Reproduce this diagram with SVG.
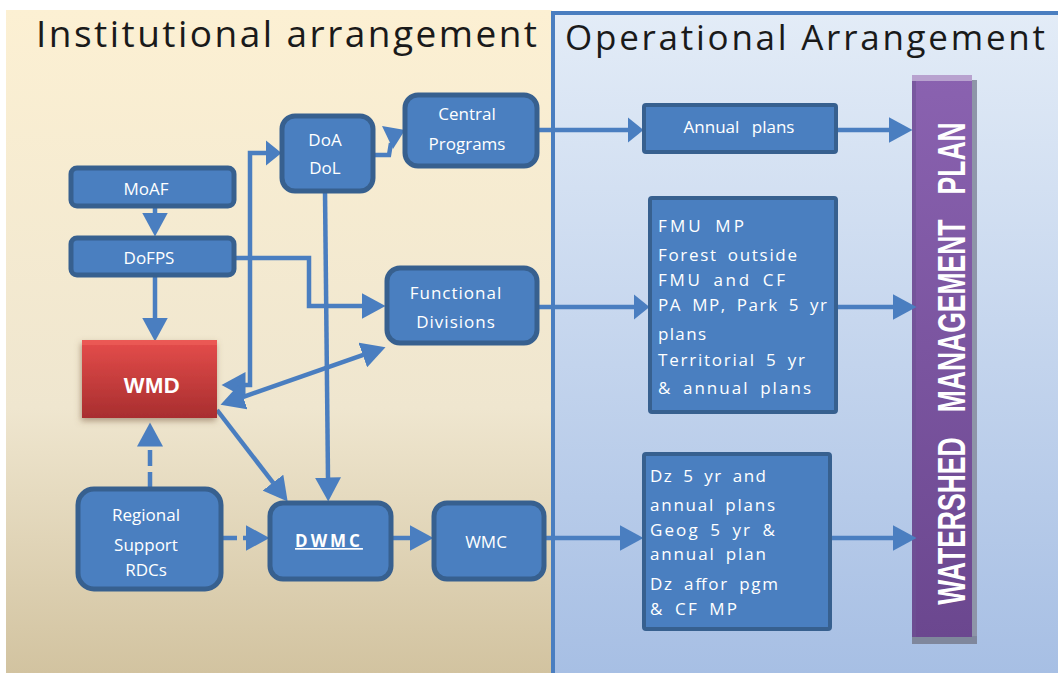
<svg xmlns="http://www.w3.org/2000/svg" width="1058" height="673" viewBox="0 0 1058 673">
<defs>
<linearGradient id="gBeige" x1="0" y1="0" x2="0" y2="1">
<stop offset="0" stop-color="#FCF0D3"/>
<stop offset="0.6" stop-color="#EFE6CF"/>
<stop offset="1" stop-color="#D2C3A0"/>
</linearGradient>
<linearGradient id="gBlue" x1="0" y1="0" x2="0" y2="1">
<stop offset="0" stop-color="#E3ECF7"/>
<stop offset="1" stop-color="#A7BFE4"/>
</linearGradient>
<linearGradient id="gRed" x1="0" y1="0" x2="0" y2="1">
<stop offset="0" stop-color="#E54D4B"/>
<stop offset="1" stop-color="#A82E2F"/>
</linearGradient>
<linearGradient id="gPurple" x1="0" y1="0" x2="0" y2="1">
<stop offset="0" stop-color="#8A62B0"/>
<stop offset="1" stop-color="#6B478F"/>
</linearGradient>
<filter id="shadow" x="-20%" y="-20%" width="140%" height="140%">
<feGaussianBlur in="SourceAlpha" stdDeviation="3"/>
<feOffset dx="-1" dy="3" result="b"/>
<feFlood flood-color="#7A5A40" flood-opacity="0.55"/>
<feComposite in2="b" operator="in"/>
<feMerge><feMergeNode/><feMergeNode in="SourceGraphic"/></feMerge>
</filter>
<marker id="arrow" markerUnits="userSpaceOnUse" markerWidth="25" markerHeight="26" refX="0.5" refY="13" orient="auto-start-reverse">
<path d="M0,0 L24,13 L0,26 z" fill="#4A7EC0"/>
</marker>
<marker id="arrowS" markerUnits="userSpaceOnUse" markerWidth="17" markerHeight="26" refX="0.5" refY="13" orient="auto-start-reverse">
<path d="M0,0 L16,13 L0,26 z" fill="#4A7EC0"/>
</marker>
</defs>
<style>
.rnd{fill:#4A7FC0;stroke:#37608F;stroke-width:5}
.sq{fill:#4A7FC0;stroke:#37608F;stroke-width:4}
.lbl{font-family:"Open Sans","Liberation Sans",sans-serif;font-size:17px;fill:#FFFFFF;text-anchor:middle}
.lst{font-family:"Open Sans","Liberation Sans",sans-serif;font-size:17px;fill:#FFFFFF;word-spacing:4px}
.ttl{font-family:"Open Sans","Liberation Sans",sans-serif;fill:#1A1A1A}
.con{fill:none;stroke:#4A7EC0;stroke-width:4.5}
.dash{stroke-dasharray:16 6}
</style>

<!-- backgrounds -->
<rect x="6" y="10" width="546" height="663" fill="url(#gBeige)"/>
<rect x="552" y="12" width="506" height="661" fill="url(#gBlue)"/>
<path d="M553,673 V13 H1058" fill="none" stroke="#4A7EC0" stroke-width="4"/>
<text class="ttl" x="36" y="47" font-size="37" textLength="501" lengthAdjust="spacing">Institutional arrangement</text>
<text class="ttl" x="565" y="50" font-size="35" textLength="480" lengthAdjust="spacing">Operational Arrangement</text>

<!-- watershed management plan bar -->
<g id="wmp">
<rect x="972" y="80" width="5" height="564" fill="#8E95A8"/>
<rect x="912" y="636" width="65" height="8" fill="#7F879C"/>
<rect x="912" y="75" width="60" height="562" fill="url(#gPurple)"/>
<rect x="912" y="75" width="60" height="6" fill="#B8A2CF"/>
<rect x="912" y="81" width="4" height="556" fill="#6E5294" opacity="0.6"/>
<text transform="translate(965,363.5) rotate(-90) scale(0.68,1)" x="0" y="0" text-anchor="middle" font-family="'Liberation Sans',Arial,sans-serif" font-weight="bold" font-size="39" word-spacing="26" fill="#FFFFFF">WATERSHED MANAGEMENT PLAN</text>
</g>

<!-- connectors -->
<g id="connectors">
<path class="con" d="M155,206 V213" marker-end="url(#arrow)"/>
<path class="con" d="M155,275 V318" marker-end="url(#arrow)"/>
<path class="con" d="M234,258 H309 V306 H362" marker-end="url(#arrow)"/>
<path class="con" d="M245,385 H250 V153 H266" marker-start="url(#arrow)" marker-end="url(#arrowS)"/>
<path class="con" d="M242.7,397.1 L363.3,354.9" marker-start="url(#arrow)" marker-end="url(#arrow)"/>
<path class="con" d="M217,410 L273.3,483" marker-end="url(#arrow)"/>
<path class="con" d="M325,191 L328,478" marker-end="url(#arrow)"/>
<path class="con dash" d="M150,488 V446" marker-end="url(#arrow)"/>
<path class="con dash" d="M221,538 H246" marker-end="url(#arrow)"/>
<path class="con" d="M391,538 H410" marker-end="url(#arrow)"/>
<path class="con" d="M373,155 H389 L391,143"/>
<polygon points="382,126 405,130 393,149" fill="#4A7EC0"/>
<path class="con" d="M537,130 H628" marker-end="url(#arrowS)"/>
<path class="con" d="M836,130 H889" marker-end="url(#arrow)"/>
<path class="con" d="M537,307 H634" marker-end="url(#arrowS)"/>
<path class="con" d="M836,307 H893" marker-end="url(#arrow)"/>
<path class="con" d="M544,538 H620" marker-end="url(#arrow)"/>
<path class="con" d="M830,538 H893" marker-end="url(#arrow)"/>
</g>

<!-- nodes -->
<g id="moaf">
<rect class="rnd" x="71" y="168" width="163" height="38" rx="6"/>
<text class="lbl" x="146" y="195">MoAF</text>
</g>
<g id="dofps">
<rect class="rnd" x="71" y="238" width="163" height="37" rx="6"/>
<text class="lbl" x="149" y="264">DoFPS</text>
</g>
<g id="wmd">
<rect x="82" y="340" width="135" height="78" fill="url(#gRed)" filter="url(#shadow)"/>
<rect x="82" y="340" width="135" height="5" fill="#EE5E5A" opacity="0.7"/>
<text x="152" y="393" text-anchor="middle" font-family="'Liberation Sans',Arial,sans-serif" font-weight="bold" font-size="22" fill="#FFFFFF" letter-spacing="0.5">WMD</text>
</g>
<g id="doa">
<rect class="rnd" x="282" y="116" width="91" height="75" rx="13"/>
<text class="lbl" x="325" y="146">DoA</text>
<text class="lbl" x="325" y="174">DoL</text>
</g>
<g id="central">
<rect class="rnd" x="405" y="95" width="132" height="71" rx="13"/>
<text class="lbl" x="467" y="120">Central</text>
<text class="lbl" x="467" y="150">Programs</text>
</g>
<g id="functional">
<rect class="rnd" x="387" y="268" width="150" height="75" rx="13"/>
<text class="lbl" x="456" y="299" letter-spacing="1">Functional</text>
<text class="lbl" x="456" y="328" letter-spacing="1">Divisions</text>
</g>
<g id="regional">
<rect class="rnd" x="78" y="489" width="143" height="100" rx="16"/>
<text class="lbl" x="146" y="521">Regional</text>
<text class="lbl" x="146" y="551">Support</text>
<text class="lbl" x="146" y="576">RDCs</text>
</g>
<g id="dwmc">
<rect class="rnd" x="270" y="503" width="121" height="76" rx="13"/>
<text class="lbl" x="329" y="547" font-weight="bold" letter-spacing="3" text-decoration="underline">DWMC</text>
</g>
<g id="wmc">
<rect class="rnd" x="434" y="503" width="110" height="76" rx="13"/>
<text class="lbl" x="486" y="548">WMC</text>
</g>
<g id="annual">
<rect class="sq" x="644" y="105" width="192" height="47" rx="2"/>
<text class="lbl" x="739" y="133" word-spacing="8">Annual plans</text>
</g>
<g id="fmu">
<rect class="sq" x="650" y="198" width="186" height="214" rx="2"/>
<text class="lst" x="658" y="232" textLength="86" lengthAdjust="spacing">FMU MP</text>
<text class="lst" x="658" y="261" textLength="139" lengthAdjust="spacing">Forest outside</text>
<text class="lst" x="658" y="286" textLength="127" lengthAdjust="spacing">FMU and CF</text>
<text class="lst" x="658" y="311" textLength="169" lengthAdjust="spacing">PA MP, Park 5 yr</text>
<text class="lst" x="658" y="340" textLength="48" lengthAdjust="spacing">plans</text>
<text class="lst" x="658" y="366" textLength="147" lengthAdjust="spacing">Territorial 5 yr</text>
<text class="lst" x="658" y="394" textLength="153" lengthAdjust="spacing">&amp; annual plans</text>
</g>
<g id="dz">
<rect class="sq" x="644" y="454" width="186" height="175" rx="2"/>
<text class="lst" x="650" y="482" textLength="116" lengthAdjust="spacing">Dz 5 yr and</text>
<text class="lst" x="650" y="511" textLength="125" lengthAdjust="spacing">annual plans</text>
<text class="lst" x="650" y="536" textLength="125" lengthAdjust="spacing">Geog 5 yr &amp;</text>
<text class="lst" x="650" y="560" textLength="116" lengthAdjust="spacing">annual plan</text>
<text class="lst" x="650" y="590" textLength="128" lengthAdjust="spacing">Dz affor pgm</text>
<text class="lst" x="650" y="615" textLength="87" lengthAdjust="spacing">&amp; CF MP</text>
</g>
</svg>
